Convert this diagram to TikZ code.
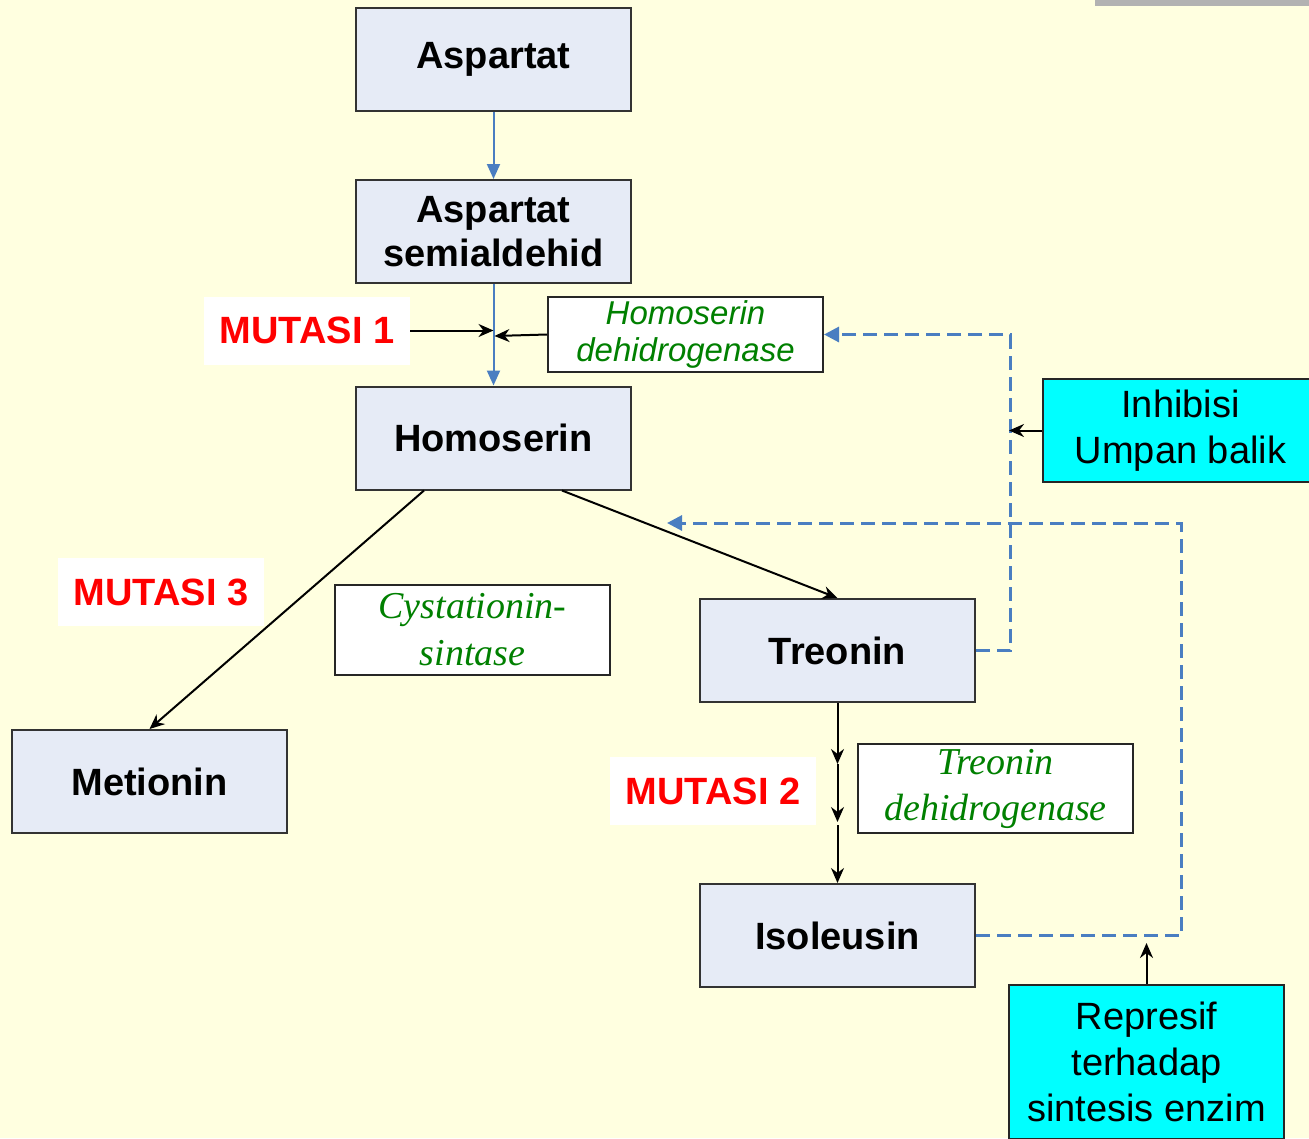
\documentclass[tikz,border=0pt]{standalone}
\usepackage{fontspec}
\setmainfont{Liberation Sans}
\newfontfamily\timesfont{Liberation Serif}
\usetikzlibrary{arrows.meta,calc}

\definecolor{bg}{RGB}{255,255,224}
\definecolor{boxfill}{RGB}{230,235,246}
\definecolor{flowblue}{RGB}{74,126,193}
\definecolor{leafgreen}{RGB}{0,128,0}
\definecolor{framegray}{RGB}{178,178,178}
\definecolor{ctrlcyan}{RGB}{0,255,255}

\begin{document}
\begin{tikzpicture}[x=1pt,y=-1pt,
  stepbox/.style={draw=black!80, line width=2pt, fill=boxfill,
    minimum width=275pt, minimum height=103pt, inner sep=0pt, align=center,
    font=\fontsize{38}{44}\selectfont\bfseries},
  enzbox/.style={draw=black!85, line width=2pt, fill=white, inner sep=0pt,
    minimum width=275pt, align=center, text=leafgreen},
  mutlabel/.style={fill=white, minimum width=206pt, minimum height=68pt,
    inner sep=0pt, text=red, font=\fontsize{38}{44}\selectfont\bfseries},
  ctrlbox/.style={draw=black!85, line width=2pt, fill=ctrlcyan,
    minimum width=275pt, inner sep=0pt, align=center,
    font=\fontsize{38}{46}\selectfont},
  solidflow/.style={flowblue, line width=2pt, -{Triangle[length=15pt,width=13pt]}},
  reaction/.style={black, line width=2pt, -{Stealth[length=15pt,width=13pt]}},
  feedback/.style={flowblue, line width=3pt, dash pattern=on 14pt off 7pt,
    -{Triangle[length=15pt,width=15pt]}},
]
% canvas
\fill[bg] (0,0) rectangle (1309,1138);
\useasboundingbox (0,0) rectangle (1309,1138);
\clip (0,0) rectangle (1309,1138);
\fill[framegray] (1095,0) rectangle (1309,6);

% metabolites
\node[stepbox] (asp)  at (493.5,59.5)  {Aspartat};
\node[stepbox] (semi) at (493.5,231.5) {Aspartat\\semialdehid};
\node[stepbox] (homo) at (493.5,438)   {Homoserin};
\node[stepbox] (met)  at (149.5,781.5) {Metionin};
\node[stepbox] (treo) at (837.5,650.5) {Treonin};
\node[stepbox] (iso)  at (837.5,935.5) {Isoleusin};

% enzymes
\node[enzbox, minimum height=75pt, font=\fontsize{33}{37}\selectfont\itshape]
  (hd) at (685.5,334.5) {Homoserin\\dehidrogenase};
\node[enzbox, minimum height=90pt, font=\fontsize{38}{47}\timesfont\itshape]
  (cys) at (472.5,630) {Cystationin-\\sintase};
\node[enzbox, minimum height=89pt, font=\fontsize{38}{46}\timesfont\itshape]
  (td) at (995.5,788.5) {Treonin\\dehidrogenase};

% mutation labels
\node[mutlabel] (m1) at (307,330.5) {MUTASI 1};
\node[mutlabel] (m3) at (161,592)   {MUTASI 3};
\node[mutlabel] (m2) at (713,791)   {MUTASI 2};

% regulation boxes
\node[ctrlbox, minimum height=103pt] (inh) at (1180.5,430.5) {Inhibisi\\Umpan balik};
\node[ctrlbox, anchor=north, inner ysep=17pt] (rep) at (1146.5,984)
  {Represif\\terhadap\\sintesis enzim};

% main pathway
\draw[solidflow] (asp) -- (semi);
\draw[solidflow] (semi) -- (homo);

\coordinate (j1) at (493.5,330.5);
\coordinate (j2) at (494.5,336);
\draw[reaction] (m1.east) -- (j1);
\draw[reaction] (hd.west) -- (j2);

\draw[reaction] ($(homo.south west)+(69,0)$) -- (met.north);
\draw[reaction] ($(homo.south west)+(207,0)$) -- (treo.north);

\coordinate (t1) at (837.5,764);
\coordinate (t2) at (837.5,822);
\coordinate (t3) at (837.5,825);
\draw[reaction] (treo.south) -- (t1);
\draw[reaction] (t1) -- (t2);
\draw[reaction] (t3) -- (iso.north);

% feedback loops
\draw[feedback] (treo.east) -- ++(34,0) |- (hd.east);
\coordinate (rcorner) at (1181,523);
\coordinate (fbend) at (667,523);
\draw[feedback] (iso.east) -| (rcorner) -- (fbend);

\coordinate (inhit) at (1009,430.5);
\coordinate (rephit) at (1146.5,943);
\draw[reaction] (inh.west) -- (inhit);
\draw[reaction] (rep.north) -- (rephit);
\end{tikzpicture}
\end{document}
